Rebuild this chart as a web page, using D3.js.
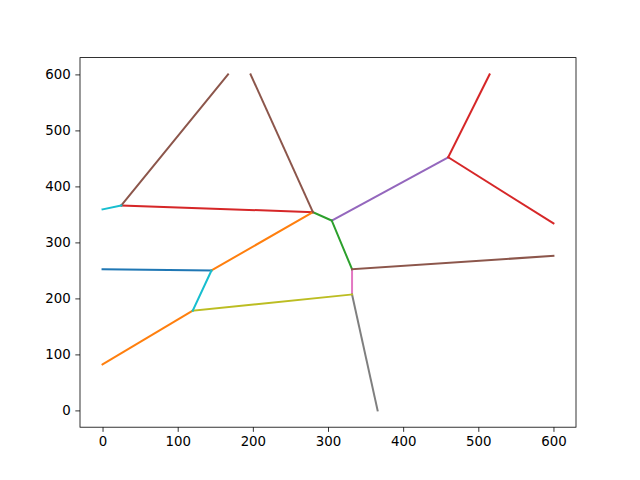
<!DOCTYPE html>
<html>
<head>
<meta charset="utf-8">
<script src="https://cdn.jsdelivr.net/npm/d3@7"></script>
<style>
  body { margin: 0; background: #fff; }
  .axis text { font-family: "DejaVu Sans", sans-serif; font-size: 13.33px; fill: #000; }
  .axis path, .axis line { stroke: #000; stroke-width: 0.8px; }
</style>
</head>
<body>
<div id="chart"></div>
<script>
// edge endpoints of the diagram, drawn in this order (later ones on top)
var edgeX0 = [0,   0,   280, 25,  305, 25,  332, 332, 120, 0,   145, 305, 460, 460, 197, 332, 120];
var edgeY0 = [252, 82,  354, 366, 339, 366, 252, 207, 178, 359, 250, 339, 452, 452, 600, 252, 178];
var edgeX1 = [145, 120, 305, 280, 460, 167, 332, 366, 332, 25,  280, 332, 515, 600, 280, 600, 145];
var edgeY1 = [250, 178, 339, 354, 452, 600, 207, 0,   207, 366, 354, 252, 600, 334, 354, 276, 250];
var edgeColor = [0, 1, 2, 3, 4, 5, 6, 7, 8, 9, 1, 2, 3, 3, 5, 5, 9];

var xTicks = [0, 100, 200, 300, 400, 500, 600];
var yTicks = [0, 100, 200, 300, 400, 500, 600];

var palette = ["#1f77b4", "#ff7f0e", "#2ca02c", "#d62728", "#9467bd",
               "#8c564b", "#e377c2", "#7f7f7f", "#bcbd22", "#17becf"];

var margin = { top: 57.6, right: 64, bottom: 52.8, left: 80 };
var width = 640 - margin.left - margin.right;
var height = 480 - margin.top - margin.bottom;

var svg = d3.select("#chart").append("svg")
    .attr("width", 640)
    .attr("height", 480)
    .append("g")
    .attr("transform", "translate(" + margin.left + "," + margin.top + ")");

var xScale = d3.scaleLinear().domain([-30, 630]).range([0, width]);
var yScale = d3.scaleLinear().domain([-30, 630]).range([height, 0]);

var edges = edgeX0.map(function(d, i) {
    return { x0: d, y0: edgeY0[i], x1: edgeX1[i], y1: edgeY1[i], c: edgeColor[i] };
});

svg.selectAll(".edge")
    .data(edges)
    .enter()
    .append("line")
    .attr("class", "edge")
    .attr("x1", function(d) { return xScale(d.x0); })
    .attr("y1", function(d) { return yScale(d.y0); })
    .attr("x2", function(d) { return xScale(d.x1); })
    .attr("y2", function(d) { return yScale(d.y1); })
    .attr("stroke", function(d) { return palette[d.c]; })
    .attr("stroke-width", 2)
    .attr("stroke-linecap", "square");

var xAxis = d3.axisBottom(xScale).tickValues(xTicks).tickSize(4.67).tickPadding(4.7).tickSizeOuter(0);
var yAxis = d3.axisLeft(yScale).tickValues(yTicks).tickSize(4.67).tickPadding(4.7).tickSizeOuter(0);

svg.append("g")
    .attr("class", "x-axis axis")
    .attr("transform", "translate(0," + height + ")")
    .call(xAxis);

svg.append("g")
    .attr("class", "y-axis axis")
    .call(yAxis);

svg.selectAll(".axis .domain").remove();

svg.append("rect")
    .attr("width", width)
    .attr("height", height)
    .attr("fill", "none")
    .attr("stroke", "#000")
    .attr("stroke-width", 0.8);
</script>
</body>
</html>
